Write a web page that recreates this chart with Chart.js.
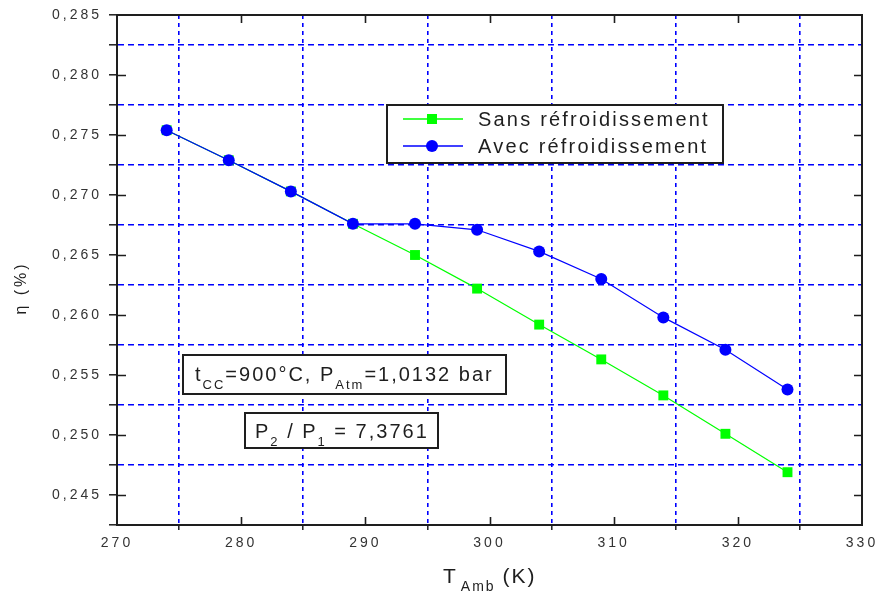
<!DOCTYPE html>
<html>
<head>
<meta charset="utf-8">
<script src="https://cdn.jsdelivr.net/npm/chart.js@4/dist/chart.umd.min.js"></script>
<style>
  html, body { margin: 0; padding: 0; background: #ffffff; }
  canvas { display: block; }
</style>
</head>
<body>
<canvas id="c" width="875" height="592"></canvas>
<script>
// ---- data ----
const temps = [274, 279, 284, 289, 294, 299, 304, 309, 314, 319, 324];
const sansRefroid = [0.2754, 0.2729, 0.2703, 0.2676, 0.2650, 0.2622, 0.2592, 0.2563, 0.2533, 0.2501, 0.2469];
const avecRefroid = [0.2754, 0.2729, 0.2703, 0.2676, 0.2676, 0.2671, 0.2653, 0.2630, 0.2598, 0.2571, 0.2538];
const seriesLabels = ['Sans réfroidissement', 'Avec réfroidissement'];
const xRange = [270, 330];
const yRange = [0.2425, 0.285];
const yTitle = 'η (%)';
const xTitle = ['T', 'Amb', '(K)'];
const note1 = [['t', false], ['CC', true], ['=900°C, P', false], ['Atm', true], ['=1,0132 bar', false]];
const note2 = [['P', false], ['2', true], [' / P', false], ['1', true], [' = 7,3761', false]];

const BLUE = '#0000ff';
const GREEN = '#00ff00';
const INK = '#1e1e1e';
const FONT = '"Liberation Sans", Arial, sans-serif';

function isMajorY(v) { return Math.round(v * 10000) % 50 === 0; }
function isMajorX(v) { return Math.round(v) % 10 === 0; }

function drawRich(ctx, parts, x, y, size, subSize, subDrop) {
  let cx = x;
  for (const [t, sub] of parts) {
    ctx.font = (sub ? subSize : size) + 'px ' + FONT;
    ctx.fillText(t, cx, sub ? y + subDrop : y);
    cx += ctx.measureText(t).width;
  }
}

const decor = {
  id: 'decor',
  beforeDraw(chart) {
    chart.ctx.letterSpacing = '3px';
  },
  afterDraw(chart) {
    const ctx = chart.ctx;
    const a = chart.chartArea;
    const xs = chart.scales.x, ys = chart.scales.y;
    ctx.save();
    ctx.letterSpacing = '0px';
    // frame
    ctx.strokeStyle = INK;
    ctx.lineWidth = 2;
    ctx.strokeRect(a.left, a.top, a.right - a.left, a.bottom - a.top);
    // inward major ticks
    ctx.lineWidth = 1.6;
    ctx.beginPath();
    xs.ticks.forEach(t => {
      if (isMajorX(t.value) && t.value > xRange[0] && t.value < xRange[1]) {
        const px = Math.round(xs.getPixelForValue(t.value)) + 0.5;
        ctx.moveTo(px, a.bottom); ctx.lineTo(px, a.bottom - 8);
        ctx.moveTo(px, a.top); ctx.lineTo(px, a.top + 8);
      }
    });
    ys.ticks.forEach(t => {
      if (isMajorY(t.value) && t.value > yRange[0] && t.value < yRange[1]) {
        const py = Math.round(ys.getPixelForValue(t.value)) + 0.5;
        ctx.moveTo(a.left, py); ctx.lineTo(a.left + 9, py);
        ctx.moveTo(a.right, py); ctx.lineTo(a.right - 8, py);
      }
    });
    ctx.stroke();

    // legend box
    ctx.fillStyle = '#ffffff';
    ctx.fillRect(387, 105, 336, 58);
    ctx.strokeStyle = INK;
    ctx.lineWidth = 2;
    ctx.strokeRect(387, 105, 336, 58);
    const rows = [119, 146];
    chart.data.datasets.forEach((ds, i) => {
      const yy = rows[i];
      ctx.strokeStyle = ds.borderColor;
      ctx.lineWidth = 1.4;
      ctx.beginPath(); ctx.moveTo(403, yy); ctx.lineTo(463, yy); ctx.stroke();
      ctx.fillStyle = ds.borderColor;
      if (ds.pointStyle === 'rect') {
        ctx.fillRect(427, yy - 5, 10, 10);
      } else {
        ctx.beginPath(); ctx.arc(432, yy, 6, 0, Math.PI * 2); ctx.fill();
      }
      ctx.fillStyle = INK;
      ctx.letterSpacing = '2.2px';
      ctx.font = '20px ' + FONT;
      ctx.textBaseline = 'middle';
      ctx.textAlign = 'left';
      ctx.fillText(ds.label, 478, yy + 1);
    });

    // annotation boxes
    ctx.textBaseline = 'alphabetic';
    ctx.fillStyle = '#ffffff';
    ctx.fillRect(183, 355, 323, 39);
    ctx.fillRect(245, 413, 193, 35);
    ctx.strokeStyle = INK;
    ctx.lineWidth = 2;
    ctx.strokeRect(183, 355, 323, 39);
    ctx.strokeRect(245, 413, 193, 35);
    ctx.fillStyle = INK;
    ctx.letterSpacing = '2px';
    drawRich(ctx, note1, 195, 381, 20, 13, 8);
    drawRich(ctx, note2, 255, 438, 20, 13, 8);

    // x axis title
    ctx.letterSpacing = '2px';
    ctx.font = '21px ' + FONT;
    ctx.fillText(xTitle[0], 443, 583);
    let cx = 443 + ctx.measureText(xTitle[0]).width + 3;
    ctx.font = '14px ' + FONT;
    ctx.fillText(xTitle[1], cx, 591);
    cx += ctx.measureText(xTitle[1]).width + 7;
    ctx.font = '21px ' + FONT;
    ctx.fillText(xTitle[2], cx, 583);

    // y axis title
    ctx.save();
    ctx.translate(26, 288);
    ctx.rotate(-Math.PI / 2);
    ctx.letterSpacing = '3px';
    ctx.font = '16px ' + FONT;
    ctx.textAlign = 'center';
    ctx.fillText(yTitle, 0, 0);
    ctx.restore();
    ctx.restore();
  }
};

new Chart(document.getElementById('c'), {
  type: 'line',
  data: {
    datasets: [
      {
        label: seriesLabels[0],
        data: temps.map((t, i) => ({ x: t, y: sansRefroid[i] })),
        borderColor: GREEN, backgroundColor: GREEN,
        borderWidth: 1.2, pointStyle: 'rect', pointRadius: 7, pointBorderWidth: 0,
        order: 2, tension: 0
      },
      {
        label: seriesLabels[1],
        data: temps.map((t, i) => ({ x: t, y: avecRefroid[i] })),
        borderColor: BLUE, backgroundColor: BLUE,
        borderWidth: 1.2, pointStyle: 'circle', pointRadius: 6, pointBorderWidth: 0,
        order: 1, tension: 0
      }
    ]
  },
  options: {
    responsive: false,
    devicePixelRatio: 1,
    animation: false,
    layout: { padding: { top: 15, right: 13, bottom: 0, left: 0 } },
    plugins: { legend: { display: false }, tooltip: { enabled: false } },
    scales: {
      x: {
        type: 'linear', min: xRange[0], max: xRange[1],
        afterFit(s) { s.height = 67; s.paddingLeft = 0; s.paddingRight = 0; },
        ticks: {
          stepSize: 5, autoSkip: false, maxRotation: 0, padding: 5,
          color: '#333', font: { family: FONT, size: 14 },
          callback: v => isMajorX(v) ? String(v) : ''
        },
        grid: {
          color: c => (c.tick && !isMajorX(c.tick.value)) ? BLUE : 'rgba(0,0,0,0)',
          lineWidth: 1.6,
          tickLength: 5,
          tickColor: c => (c.tick && !isMajorX(c.tick.value)) ? INK : 'rgba(0,0,0,0)',
          tickWidth: 1.5
        },
        border: { display: true, color: INK, width: 2, dash: [4, 4] }
      },
      y: {
        type: 'linear', min: yRange[0], max: yRange[1],
        afterFit(s) { s.width = 117; s.paddingTop = 0; s.paddingBottom = 0; },
        ticks: {
          stepSize: 0.0025, autoSkip: false, padding: 7,
          color: '#333', font: { family: FONT, size: 14 },
          callback: v => isMajorY(v) ? (Math.round(v * 1000) / 1000).toFixed(3).replace('.', ',') : ''
        },
        grid: {
          color: c => (c.tick && !isMajorY(c.tick.value)) ? BLUE : 'rgba(0,0,0,0)',
          lineWidth: 1.6,
          tickLength: 8,
          tickColor: INK,
          tickWidth: 1.5
        },
        border: { display: true, color: INK, width: 2, dash: [6, 4] }
      }
    }
  },
  plugins: [decor]
});
</script>
</body>
</html>
